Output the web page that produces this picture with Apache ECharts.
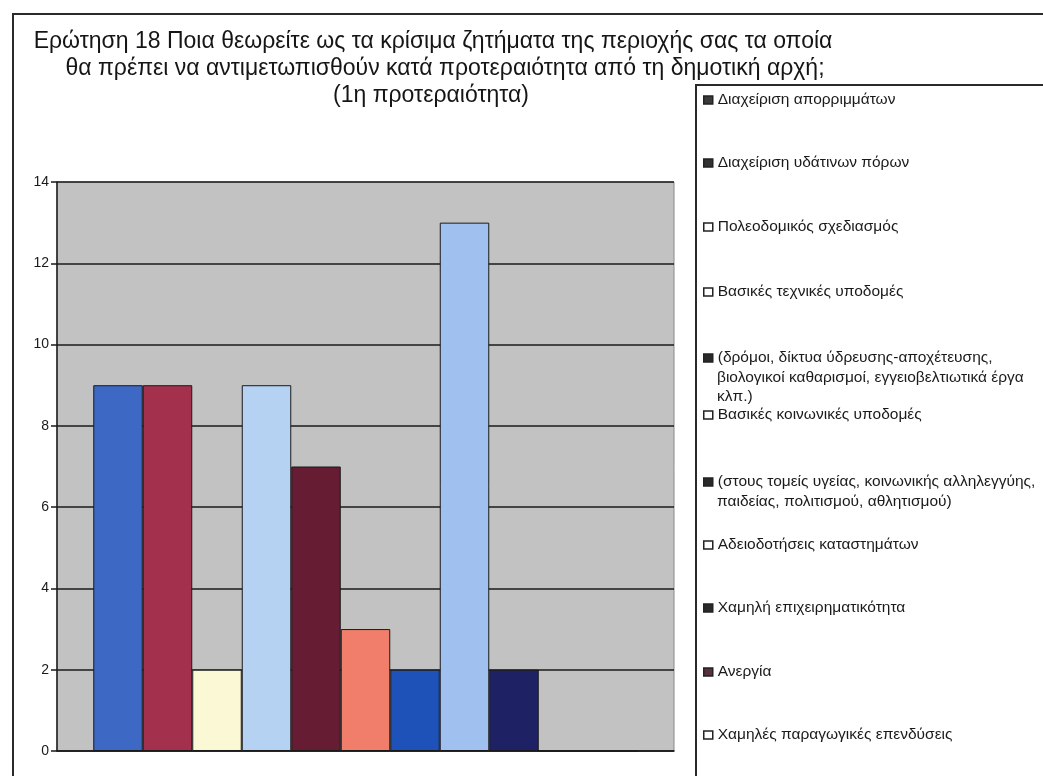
<!DOCTYPE html>
<html>
<head>
<meta charset="utf-8">
<script src="https://cdn.jsdelivr.net/npm/echarts@6/dist/echarts.min.js"></script>
<style>
  html, body { margin: 0; padding: 0; background: #fff; }
  #chart { width: 1043px; height: 776px; }
</style>
</head>
<body>
<div id="chart"></div>
<script>
// τίτλος, μία γραμμή ανά στοιχείο
var titleLines = [
    'Ερώτηση 18 Ποια θεωρείτε ως τα κρίσιμα ζητήματα της περιοχής σας τα οποία',
    'θα πρέπει να αντιμετωπισθούν κατά προτεραιότητα από τη δημοτική αρχή;',
    '(1η προτεραιότητα)'
];
var categories = [''];
var seriesNames = [
    'Διαχείριση απορριμμάτων',
    'Διαχείριση υδάτινων πόρων',
    'Πολεοδομικός σχεδιασμός',
    'Βασικές τεχνικές υποδομές',
    '(δρόμοι, δίκτυα ύδρευσης-αποχέτευσης,\nβιολογικοί καθαρισμοί, εγγειοβελτιωτικά έργα\nκλπ.)',
    'Βασικές κοινωνικές υποδομές',
    '(στους τομείς υγείας, κοινωνικής αλληλεγγύης,\nπαιδείας, πολιτισμού, αθλητισμού)',
    'Αδειοδοτήσεις καταστημάτων',
    'Χαμηλή επιχειρηματικότητα',
    'Ανεργία',
    'Χαμηλές παραγωγικές επενδύσεις'
];
var values = [9, 9, 2, 9, 7, 3, 2, 13, 2, 0, 0];

var barColors = ['#3d68c4', '#a3304c', '#fbf8d6', '#b5d2f3', '#661d33', '#f07e6a',
    '#1f52b8', '#a0c0ef', '#1e2264', '#5a3040', '#ffffff'];
// τα τετραγωνάκια του υπομνήματος είναι σχεδόν ασπρόμαυρα στο πρωτότυπο
var legendIcons = ['#3a3a3a', '#333333', '#ffffff', '#ffffff', '#2a2a2a', '#ffffff',
    '#2a2a2a', '#ffffff', '#2a2a2a', '#5a3040', '#ffffff'];
var legendCenters = [100, 163, 227, 292, 358, 415, 482, 545, 608, 672, 735];
var titleCenters = [428, 440, 426];
var legendFont = { fontFamily: 'Liberation Sans', fontSize: 15.5 };
var lineStep = 19.5;

var myChart = echarts.init(document.getElementById('chart'));

var titles = titleLines.map(function (t, i) {
    return {
        text: t,
        left: titleCenters[i],
        top: 25 + i * 27,
        textAlign: 'center',
        textStyle: {
            fontFamily: 'Liberation Sans',
            fontSize: 23,
            fontWeight: 'normal',
            color: '#151515'
        }
    };
});

// ένα υπόμνημα για κάθε σειρά, ώστε να κρατηθούν οι αποστάσεις του πρωτοτύπου
var legends = seriesNames.map(function (name, i) {
    return {
        left: 703,
        top: legendCenters[i] - 10,
        padding: 0,
        icon: 'rect',
        itemWidth: 9,
        itemHeight: 8,
        formatter: function (n) {
            return n.split('\n')[0];
        },
        data: [{
            name: name,
            itemStyle: {
                color: legendIcons[i],
                borderColor: '#222',
                borderWidth: 1.5
            }
        }],
        textStyle: {
            fontFamily: legendFont.fontFamily,
            fontSize: legendFont.fontSize,
            color: '#1a1a1a',
            lineHeight: 20
        }
    };
});

// οι υπόλοιπες γραμμές των μακριών ονομάτων, κάτω από την πρώτη
var extraLines = [];
seriesNames.forEach(function (name, i) {
    name.split('\n').slice(1).forEach(function (line, k) {
        extraLines.push({
            type: 'text',
            x: 717,
            y: legendCenters[i] + (k + 1) * lineStep,
            style: {
                text: line,
                fontFamily: legendFont.fontFamily,
                fontSize: legendFont.fontSize,
                fill: '#1a1a1a',
                verticalAlign: 'middle'
            }
        });
    });
});

var series = seriesNames.map(function (name, i) {
    return {
        name: name,
        type: 'bar',
        barWidth: 49.5,
        barGap: '0%',
        data: [values[i]],
        itemStyle: {
            color: barColors[i],
            borderColor: '#1a1a1a',
            borderWidth: 1
        }
    };
});

myChart.setOption({
    backgroundColor: '#ffffff',
    animation: false,
    title: titles,
    legend: legends,
    grid: {
        left: 57,
        right: 369,
        top: 182,
        bottom: 25,
        show: true,
        backgroundColor: '#c2c2c2',
        borderColor: '#8a8a8a',
        borderWidth: 1
    },
    xAxis: {
        type: 'category',
        data: categories,
        axisLine: { lineStyle: { color: '#1a1a1a', width: 1.5 } },
        axisTick: { show: false },
        axisLabel: { show: false }
    },
    yAxis: {
        type: 'value',
        min: 0,
        max: 14,
        interval: 2,
        axisLine: { show: true, lineStyle: { color: '#1a1a1a', width: 1.5 } },
        axisTick: { show: true, length: 6, lineStyle: { color: '#1a1a1a', width: 1.5 } },
        axisLabel: {
            margin: 8,
            fontFamily: 'Liberation Sans',
            fontSize: 14,
            color: '#1a1a1a'
        },
        splitLine: { lineStyle: { color: '#1a1a1a', width: 1.7 } }
    },
    graphic: [
        {
            type: 'line',
            shape: { x1: 12, y1: 14, x2: 1043, y2: 14 },
            style: { stroke: '#2a2a2a', lineWidth: 2 }
        },
        {
            type: 'line',
            shape: { x1: 13, y1: 14, x2: 13, y2: 776 },
            style: { stroke: '#2a2a2a', lineWidth: 2 }
        },
        {
            type: 'rect',
            shape: { x: 696, y: 85, width: 400, height: 720 },
            style: { fill: 'none', stroke: '#2a2a2a', lineWidth: 2 }
        }
    ].concat(extraLines),
    series: series
});
</script>
</body>
</html>
